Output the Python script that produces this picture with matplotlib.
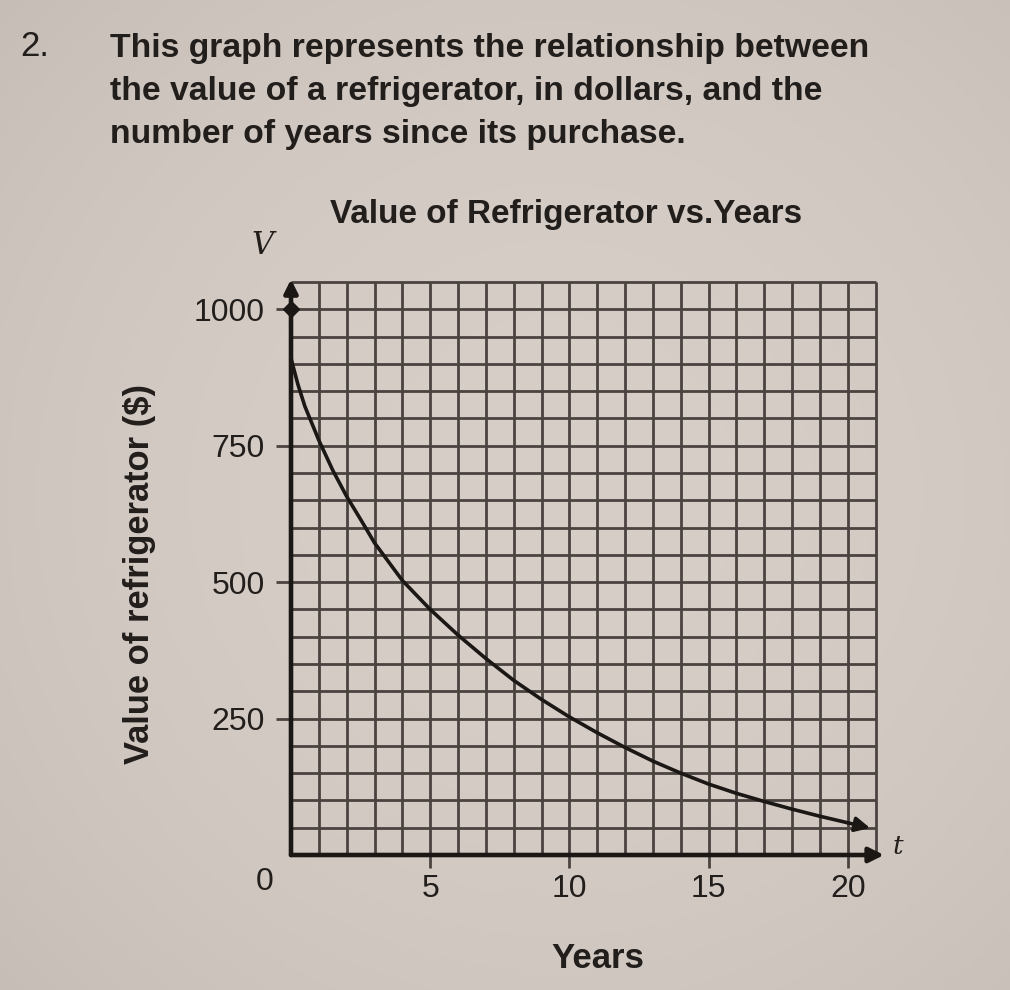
import numpy as np
import matplotlib
matplotlib.use("Agg")
import matplotlib.pyplot as plt
from matplotlib.colors import to_rgb

# ---------------- data ----------------
years = [0, 0.25, 0.5, 1, 1.5, 2, 2.5, 3, 4, 5, 6, 7, 8, 9, 10,
         11, 12, 13, 14, 15, 16, 17, 18, 19, 20]
values = [910, 862, 822, 760, 705, 657, 615, 572, 503, 450, 403, 360, 320, 285, 253,
          224, 197, 172, 150, 130, 113, 98, 84, 71, 59]

question_number = "2."
question_lines = [
    "This graph represents the relationship between",
    "the value of a refrigerator, in dollars, and the",
    "number of years since its purchase.",
]
title = "Value of Refrigerator vs.Years"
x_label = "Years"
y_label = "Value of refrigerator ($)"
x_ticks = [5, 10, 15, 20]
y_ticks = [250, 500, 750, 1000]
x_max_grid = 21
y_max_grid = 1050
x_step, y_step = 1, 50

# ---------------- style ----------------
W, H = 1010, 990
FONT = "Liberation Sans"
grid_color = "#4a4340"
ink = "#1b1715"
text_color = "#221e1c"

fig = plt.figure(figsize=(W / 100, H / 100), dpi=100)

# paper background with slight photo vignette
bg = fig.add_axes([0, 0, 1, 1], zorder=-10)
yy, xx = np.mgrid[0:1:300j, 0:1:300j]
r = np.sqrt((xx - 0.55) ** 2 + (yy - 0.5) ** 2) / 0.75
r = np.clip(r, 0, 1)
c_center = np.array(to_rgb("#d7cec8"))
c_edge = np.array(to_rgb("#c6bdb7"))
img = c_center[None, None, :] * (1 - r[..., None] ** 2) + c_edge[None, None, :] * (r[..., None] ** 2)
bg.imshow(img, extent=[0, 1, 0, 1], aspect="auto", origin="upper")
bg.set_axis_off()


def px(x, y):
    return x / W, 1 - y / H


# ---------------- main axes ----------------
x_lim = (0, 21.3)
y_lim = (0, 1060)
left_px, right_px = 291, 884
zero_y_px = 855
top_px = zero_y_px - (y_lim[1] - y_lim[0]) * 0.5457
ax = fig.add_axes([left_px / W, 1 - zero_y_px / H,
                   (right_px - left_px) / W, (zero_y_px - top_px) / H])
ax.patch.set_alpha(0)
ax.set_xlim(*x_lim)
ax.set_ylim(*y_lim)
for s in ax.spines.values():
    s.set_visible(False)

# graph-paper grid
ax.vlines(np.arange(x_step, x_max_grid + x_step, x_step), 0, y_max_grid,
          color=grid_color, lw=2.0, zorder=1)
ax.hlines(np.arange(y_step, y_max_grid + y_step, y_step), 0, x_max_grid,
          color=grid_color, lw=2.0, zorder=1)

# axes with arrows
ax.annotate("", xy=(x_lim[1], 0), xytext=(0, 0), annotation_clip=False,
            arrowprops=dict(arrowstyle="-|>", lw=3.3, color=ink,
                            mutation_scale=22, shrinkA=0, shrinkB=0), zorder=4)
ax.annotate("", xy=(0, y_lim[1] - 5), xytext=(0, 0), annotation_clip=False,
            arrowprops=dict(arrowstyle="-|>", lw=3.3, color=ink,
                            mutation_scale=20, shrinkA=0, shrinkB=0), zorder=4)
ax.plot([0], [y_ticks[-1]], marker="D", ms=8, color=ink, clip_on=False, zorder=5)

# ticks
ax.set_xticks(x_ticks)
ax.set_yticks(y_ticks)
ax.set_xticklabels([str(v) for v in x_ticks], fontfamily=FONT)
ax.set_yticklabels([str(v) for v in y_ticks], fontfamily=FONT)
ax.tick_params(axis="x", length=9, width=2, color=grid_color, pad=5,
               labelsize=23, labelcolor=text_color)
ax.tick_params(axis="y", length=11, width=2, color=grid_color, pad=8,
               labelsize=23, labelcolor=text_color)
ax.annotate("0", xy=(0, 0), xytext=(-26, -27), textcoords="offset pixels",
            ha="center", va="center", fontsize=23, fontfamily=FONT,
            color=text_color, annotation_clip=False)

# curve
ax.plot(years, values, color=ink, lw=2.6, zorder=3, solid_capstyle="round")
slope = (values[-1] - values[-2]) / (years[-1] - years[-2])
ext = 0.8
ax.annotate("", xy=(years[-1] + ext, values[-1] + slope * ext),
            xytext=(years[-1], values[-1]), annotation_clip=False,
            arrowprops=dict(arrowstyle="-|>", lw=2.6, color=ink,
                            mutation_scale=22, shrinkA=0, shrinkB=0), zorder=3)

# ---------------- texts ----------------
fig.canvas.draw()
renderer = fig.canvas.get_renderer()


def fit(t, width_px):
    w = t.get_window_extent(renderer).width
    t.set_fontsize(t.get_fontsize() * width_px / w)


lines = []
for i, line in enumerate(question_lines):
    xx_, yy_ = px(110, 49 + 42.5 * i)
    lines.append(fig.text(xx_, yy_, line, ha="left", va="center", fontsize=22,
                          fontfamily=FONT, fontweight="bold", color=text_color))
fit(lines[0], 760)
for t in lines[1:]:
    t.set_fontsize(lines[0].get_fontsize())

xq, yq = px(20, 46)
fig.text(xq, yq, question_number, ha="left", va="center", fontsize=25,
         fontfamily=FONT, color=text_color)

xt, yt = px(566, 215)
tt = fig.text(xt, yt, title, ha="center", va="center", fontsize=22,
              fontfamily=FONT, fontweight="bold", color=text_color)
fit(tt, 472)

xv, yv = px(262, 245)
fig.text(xv, yv, "V", ha="center", va="center", fontsize=22,
         fontfamily="DejaVu Serif", style="italic", color=text_color)

xtt, ytt = px(898, 846)
fig.text(xtt, ytt, "t", ha="center", va="center", fontsize=19,
         fontfamily="DejaVu Serif", style="italic", color=text_color)

xl, yl = px(140, 574)
tl = fig.text(xl, yl, y_label, ha="center", va="center", rotation=90,
              fontsize=22, fontfamily=FONT, fontweight="bold", color=text_color)
tl_w = tl.get_window_extent(renderer).height
tl.set_fontsize(tl.get_fontsize() * 380 / tl_w)

xx_l, yx_l = px(598, 958)
tx = fig.text(xx_l, yx_l, x_label, ha="center", va="center", fontsize=22,
              fontfamily=FONT, fontweight="bold", color=text_color)
fit(tx, 93)

fig.savefig("out.png", dpi=100)
